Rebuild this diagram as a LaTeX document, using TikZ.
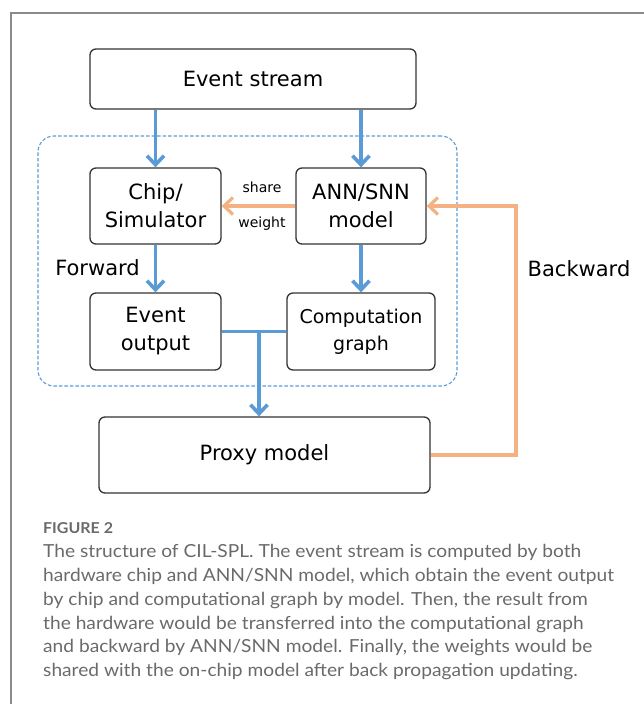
\documentclass[tikz,border=0pt]{standalone}
\usepackage{fontspec}
\setmainfont{DejaVu Sans}
\newfontfamily\capfont[FakeStretch=1.065]{Lato}
\usetikzlibrary{arrows.meta}
\definecolor{flowblue}{HTML}{5B9BD5}
\definecolor{backorange}{HTML}{F4B183}
\definecolor{boxline}{HTML}{333333}
\definecolor{framegray}{HTML}{8A8A8A}
\definecolor{capgray}{HTML}{6A6A6A}
\tikzset{
  block/.style={draw=boxline, line width=1.3pt, rounded corners=6pt, align=center,
    inner sep=0pt, font=\fontsize{21}{28}\selectfont},
  flow/.style={draw=flowblue, line width=3.6pt, -{Straight Barb[length=9pt,width=17pt]}},
  flowline/.style={draw=flowblue, line width=3.6pt},
  back/.style={draw=backorange, line width=3.2pt, -{Straight Barb[length=9pt,width=17pt]}},
  tag/.style={inner sep=0pt, font=\fontsize{14}{16}\selectfont},
  side/.style={inner sep=0pt, font=\fontsize{21}{26}\selectfont},
  capline/.style={anchor=base west, inner sep=0pt, text=capgray,
    font=\capfont\fontsize{18}{22}\selectfont},
}
\begin{document}
\begin{tikzpicture}[x=1pt, y=-1pt]
  \useasboundingbox (0,0) rectangle (643,704);
  % outer frame (left and top edges)
  \draw[framegray, line width=1.4pt] (11,720) -- (11,13) -- (660,13);

  % dashed group around the four inner blocks
  \node[draw=flowblue, line width=1.1pt, dash pattern=on 3.5pt off 2pt,
        rounded corners=16pt, minimum width=419pt, minimum height=250pt,
        inner sep=0pt] (group) at (247.5,261) {};

  % blocks
  \node[block, minimum width=326pt, minimum height=60pt] (es) at (253,79) {Event stream};
  \node[block, minimum width=131pt, minimum height=76pt] (chip) at (155.5,206) {Chip/\\Simulator};
  \node[block, minimum width=130pt, minimum height=76pt] (ann) at (361,206) {ANN/SNN\\model};
  \node[block, minimum width=131pt, minimum height=77pt] (eo) at (155.5,331.5) {Event\\output};
  \node[block, minimum width=148pt, minimum height=77pt,
        font=\fontsize{19}{27}\selectfont] (cg) at (361,331.5) {Computation\\graph};
  \node[block, minimum width=331pt, minimum height=76pt] (proxy) at (264.5,455) {Proxy model};

  % forward (blue) flow
  \draw[flow] (chip.north |- es.south) -- (chip.north);
  \draw[flow] (ann.north |- es.south) -- (ann.north);
  \draw[flow] (chip.south) -- (eo.north);
  \draw[flow] (ann.south) -- (cg.north);
  \draw[flowline] (eo.east) -- (cg.west);
  \coordinate (join) at (259,331.5);
  \draw[flow] (join) -- (join |- proxy.north);

  % backward (orange) flow
  \draw[back] (ann.west) -- (chip.east);
  \coordinate (turn) at (516,455);
  \draw[back] (proxy.east) -- (turn) |- (ann.east);

  % labels
  \node[tag] (share) at (262,187) {share};
  \node[tag] (weight) at (262,224) {weight};
  \node[side] (fw) at (97.5,268) {Forward};
  \node[side] (bw) at (579,269) {Backward};

  % caption
  \node[capline, font=\capfont\bfseries\fontsize{15}{18}\selectfont] (fig) at (43,533) {FIGURE 2};
  \node[capline] (c1) at (43,557) {The structure of CIL-SPL. The event stream is computed by both};
  \node[capline] (c2) at (43,581) {hardware chip and ANN/SNN model, which obtain the event output};
  \node[capline] (c3) at (43,605) {by chip and computational graph by model. Then, the result from};
  \node[capline] (c4) at (43,629) {the hardware would be transferred into the computational graph};
  \node[capline] (c5) at (43,652.5) {and backward by ANN/SNN model. Finally, the weights would be};
  \node[capline] (c6) at (43,676) {shared with the on-chip model after back propagation updating.};
\end{tikzpicture}
\end{document}
